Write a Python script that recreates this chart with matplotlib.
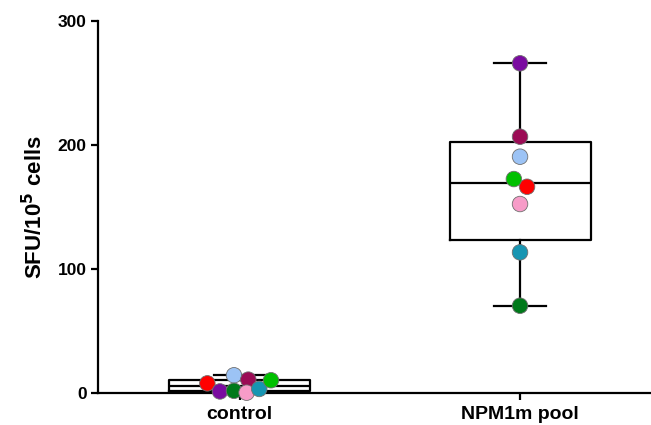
import numpy as np
import matplotlib
matplotlib.use('Agg')
from matplotlib import pyplot as plt

plt.rcParams['font.family'] = ['Liberation Sans', 'DejaVu Sans']
plt.rcParams['font.weight'] = 'bold'

groups = ['control', 'NPM1m pool']
colors = ['#FF0000', '#7A0AA0', '#9CC3F5', '#00791A', '#9B0C55', '#F79CC8', '#1795B2', '#00C000']
control = [8.0, 1.5, 14.5, 2.0, 11.0, 0.5, 3.5, 10.5]
npm1m = [166.3, 265.7, 190.5, 70.5, 206.6, 152.4, 113.5, 172.5]
# horizontal scatter offsets per point
control_dx = [-0.115, -0.07, -0.02, -0.02, 0.031, 0.025, 0.07, 0.112]
npm1m_dx = [0.025, 0.0, 0.0, 0.0, 0.0, 0.0, 0.0, -0.022]


def box_stats(vals):
  q1, med, q3 = np.percentile(vals, [25, 50, 75], method='weibull')
  return dict(med=med, q1=q1, q3=q3, whislo=min(vals), whishi=max(vals), fliers=[])


fig = plt.figure(figsize=(6.51, 4.25), dpi=100)
ax = fig.add_axes([0.1505, 0.0746, 0.8495, 0.8767])

lw = 1.6
ax.bxp([box_stats(control), box_stats(npm1m)], positions=[0, 1], widths=0.503,
       capwidths=0.185, showfliers=False,
       boxprops=dict(color='black', linewidth=lw),
       medianprops=dict(color='black', linewidth=lw),
       whiskerprops=dict(color='black', linewidth=lw),
       capprops=dict(color='black', linewidth=lw))

for i, (vals, dx) in enumerate([(control, control_dx), (npm1m, npm1m_dx)]):
  xs = [i + d for d in dx]
  ax.scatter(xs, vals, s=125, c=colors, edgecolors='#707070', linewidths=0.6,
             zorder=5, clip_on=False)

ax.set_xlim(-0.505, 1.467)
ax.set_ylim(0, 300)
ax.set_yticks([0, 100, 200, 300])
ax.set_xticks([0, 1])
ax.set_xticklabels(groups)
ax.tick_params(axis='both', direction='out', length=5, width=1.6, pad=3)
ax.tick_params(axis='y', labelsize=12.5)
ax.tick_params(axis='x', labelsize=14, pad=4)
for lab in ax.get_xticklabels() + ax.get_yticklabels():
  lab.set_fontweight('bold')
ax.set_ylabel('SFU/10$^{5}$ cells', fontsize=16, fontweight='bold', labelpad=8)
ax.spines['top'].set_visible(False)
ax.spines['right'].set_visible(False)
ax.spines['left'].set_linewidth(1.6)
ax.spines['bottom'].set_linewidth(1.6)

fig.savefig('out.png', dpi=100)
